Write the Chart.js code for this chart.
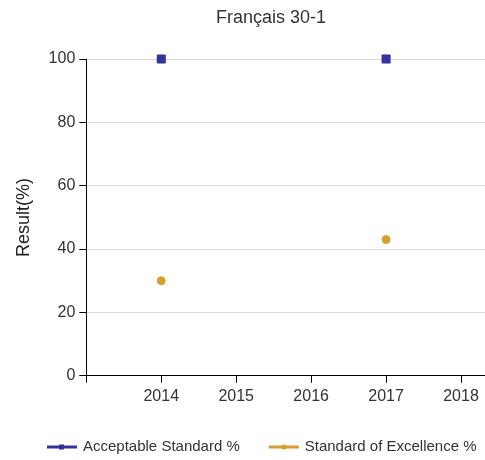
<!DOCTYPE html>
<html>
<head>
<meta charset="utf-8">
<script src="https://cdn.jsdelivr.net/npm/chart.js@4/dist/chart.umd.min.js"></script>
<style>
  html, body { margin: 0; padding: 0; background: #fff; }
  #chart { display: block; }
</style>
</head>
<body>
<canvas id="chart" width="485" height="460"></canvas>
<script>
// Chart data
const chartTitle = 'Français 30-1';
const years = [2014, 2015, 2016, 2017, 2018];
const acceptable = [100, null, null, 100, null];
const excellence = [30, null, null, 43, null];
const yTicks = [0, 20, 40, 60, 80, 100];

function toPoints(values) {
    return years.map((yr, i) => ({ x: yr, y: values[i] })).filter(p => p.y !== null);
}

// Title sits a bit right of the canvas centre, legend is a line with a small marker
const titleAndLegend = {
    id: 'titleAndLegend',
    afterDraw(chart) {
        const c = chart.ctx;
        c.save();
        c.textBaseline = 'middle';

        c.font = '18px "Liberation Sans", Arial, sans-serif';
        c.fillStyle = '#333';
        c.textAlign = 'center';
        c.fillText(chartTitle, 271, 18);

        c.textAlign = 'left';
        c.font = '15px "Liberation Sans", Arial, sans-serif';
        const y = 447;
        let x = 47;
        chart.data.datasets.forEach(ds => {
            c.fillStyle = ds.backgroundColor;
            c.fillRect(x, y - 1.5, 30, 3);
            if (ds.pointStyle === 'rect') {
                c.fillRect(x + 12, y - 2.5, 5, 5);
            } else {
                c.beginPath();
                c.arc(x + 15, y, 2.5, 0, Math.PI * 2);
                c.fill();
            }
            c.fillStyle = '#333';
            c.fillText(ds.label, x + 36, y);
            x += 36 + c.measureText(ds.label).width + 29;
        });
        c.restore();
    }
};

const ctx = document.getElementById('chart').getContext('2d');
Chart.defaults.font.family = '"Liberation Sans", Arial, sans-serif';
Chart.defaults.color = '#333';

new Chart(ctx, {
    type: 'scatter',
    data: {
        datasets: [{
            label: 'Acceptable Standard %',
            data: toPoints(acceptable),
            backgroundColor: '#333399',
            borderColor: '#333399',
            pointStyle: 'rect',
            pointRadius: 5.7,
            pointHoverRadius: 5.7,
            showLine: false,
            clip: false
        }, {
            label: 'Standard of Excellence %',
            data: toPoints(excellence),
            backgroundColor: '#d49e30',
            borderColor: '#d49e30',
            pointStyle: 'circle',
            pointRadius: 4,
            pointHoverRadius: 4,
            showLine: false,
            clip: false
        }]
    },
    plugins: [titleAndLegend],
    options: {
        responsive: false,
        animation: false,
        layout: { autoPadding: false, padding: { left: 9, right: 0, top: 59, bottom: 50 } },
        plugins: {
            title: { display: false },
            legend: { display: false },
            tooltip: { enabled: false }
        },
        scales: {
            x: {
                type: 'linear',
                min: 2013,
                max: 2018.32,
                afterBuildTicks: axis => {
                    axis.ticks = [2013].concat(years).map(v => ({ value: v }));
                },
                afterFit: axis => { axis.paddingRight = 0; },
                ticks: {
                    callback: v => (v === 2013 ? '' : String(v)),
                    color: '#333',
                    font: { size: 16 },
                    padding: 4,
                    maxRotation: 0
                },
                grid: {
                    drawOnChartArea: false,
                    tickLength: 7,
                    tickColor: '#000'
                },
                border: { color: '#000', width: 1 }
            },
            y: {
                min: 0,
                max: 100,
                afterBuildTicks: axis => {
                    axis.ticks = yTicks.map(v => ({ value: v }));
                },
                title: {
                    display: true,
                    text: 'Result(%)',
                    color: '#222',
                    font: { size: 18 },
                    padding: { bottom: 10 }
                },
                ticks: {
                    color: '#333',
                    font: { size: 16 },
                    padding: 4
                },
                grid: {
                    color: '#dcdcdc',
                    tickLength: 7,
                    tickColor: '#000'
                },
                border: { color: '#000', width: 1 }
            }
        }
    }
});
</script>
</body>
</html>
